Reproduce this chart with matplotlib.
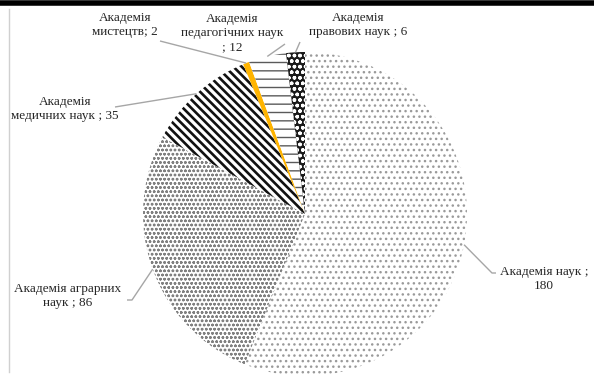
import matplotlib
matplotlib.use("Agg")
import matplotlib.pyplot as plt
import numpy as np

# ---- data ----
labels = ["Академія наук ;\n180",
          "Академія аграрних\nнаук ; 86",
          "Академія\nмедичних наук ; 35",
          "Академія\nмистецтв; 2",
          "Академія\nпедагогічних наук\n; 12",
          "Академія\nправових наук ; 6"]
values = [180, 86, 35, 2, 12, 6]

# styles (face, hatch colour, hatch, hatch linewidth)
faces = ["white", "white", "white", "#FFB400", "white", "#1a1a1a"]
hcols = ["#9a9a9a", "#808080", "#111111", "#FFB400", "#5a5a5a", "white"]
hatches = ["...", "oooo", "\\\\\\\\", None, "--", "ooo"]
hlws = [1.0, 0.7, 1.9, 1.0, 1.0, 1.0]

# label text positions (pixel coords, top-left origin) and leader elbows
text_pos = [(544, 279), (68, 296), (65, 109), (125, 25), (232, 33), (358, 25)]
elbows = [(492, 273), (132, 300), (115, 107), (160, 41), (285, 44), (300, 42)]
text_ends = [(496, 273), (127, 300), (115, 107), (160, 41), (285, 44), (300, 42)]

W, H = 594, 378
fig = plt.figure(figsize=(W / 100, H / 100), dpi=100)
ax = fig.add_axes([0, 0, 1, 1])


def P(x, y):
    return (x, H - y)


cx, cy, R = 305, 214, 162
wedges, _ = ax.pie(values, center=P(cx, cy), radius=R, startangle=90,
                   counterclock=False, frame=True,
                   wedgeprops=dict(linewidth=0))
ax.set_xlim(0, W)
ax.set_ylim(0, H)
ax.set_aspect("equal")
ax.axis("off")

for w, fc, hc, ht, hl in zip(wedges, faces, hcols, hatches, hlws):
    w.set_facecolor(fc)
    w.set_edgecolor(hc)
    w.set_linewidth(0)
    if ht:
        w.set_hatch(ht)
        if hasattr(w, "set_hatch_linewidth"):
            w.set_hatch_linewidth(hl)

txt_kw = dict(fontfamily=["Liberation Serif", "DejaVu Serif"], fontsize=9.5,
              color="#262626", ha="center", va="center", linespacing=1.2)
lead = "#a6a6a6"
for w, lab, tp, el, te in zip(wedges, labels, text_pos, elbows, text_ends):
    mid = np.deg2rad((w.theta1 + w.theta2) / 2)
    px = w.center[0] + w.r * np.cos(mid)
    py = w.center[1] + w.r * np.sin(mid)
    ex, ey = P(*el)
    tx, ty = P(*te)
    ax.plot([px, ex, tx], [py, ey, ty], color=lead, lw=1.0,
            solid_capstyle="butt")
    ax.text(*P(*tp), lab, **txt_kw)

# frame decorations
ax.plot([0, W], [H - 2.5, H - 2.5], color="black", lw=4, clip_on=False)
ax.plot([8.5, 8.5], [H - 9, H - 372], color="#d0d0d0", lw=1)

fig.savefig("out.png", dpi=100)
